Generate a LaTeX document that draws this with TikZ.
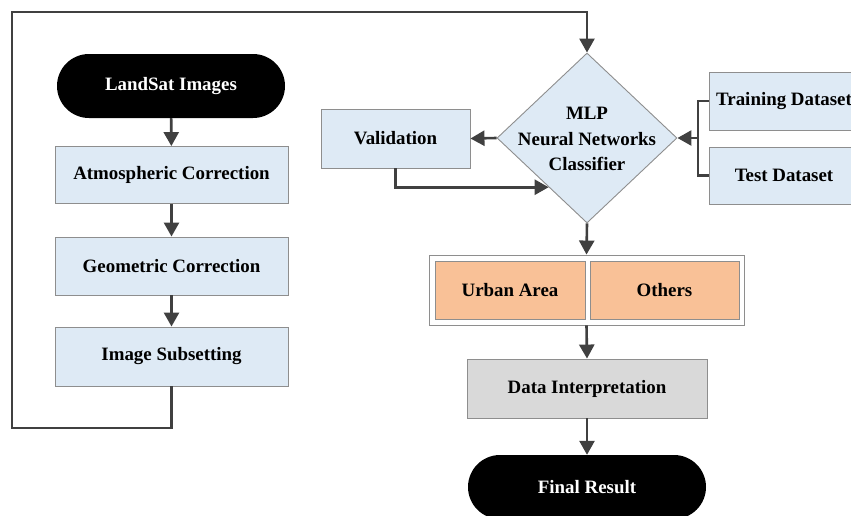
\documentclass[tikz,border=0pt]{standalone}
\usepackage{fontspec}
\setmainfont{Liberation Serif}
\usetikzlibrary{arrows.meta,shapes.misc,shapes.geometric,calc}
\definecolor{boxblue}{HTML}{DEEAF5}
\definecolor{boxedge}{HTML}{8E8E8E}
\definecolor{boxorange}{HTML}{F9C197}
\definecolor{boxgray}{HTML}{D9D9D9}
\definecolor{linkgray}{HTML}{404040}
\tikzset{
  x=1pt, y=-1pt,
  every node/.style={font=\fontsize{18.9}{25.5}\selectfont\bfseries, inner sep=0pt},
  procbox/.style={rectangle, draw=boxedge, line width=0.9pt, fill=boxblue},
  terminal/.style={rounded rectangle, fill=black, text=white, minimum width=228pt, minimum height=64pt},
  link/.style={draw=linkgray, line width=2.6pt},
  flow/.style={link, -{Triangle[width=15pt,length=14pt]}},
}
\begin{document}
\begin{tikzpicture}
\useasboundingbox (0,0) rectangle (851,515);
\clip (0,0) rectangle (851,515);

% left column: preprocessing
\node[terminal] (landsat) at (171,86) {LandSat Images};
\node[procbox, minimum width=233pt, minimum height=57pt] (atmo) at (171.5,175) {Atmospheric Correction};
\node[procbox, minimum width=233pt, minimum height=58pt] (geo) at (171.5,266) {Geometric Correction};
\node[procbox, minimum width=233pt, minimum height=59pt] (subset) at (171.5,356.5) {Image Subsetting};

% classifier
\node[diamond, draw=boxedge, line width=0.9pt, fill=boxblue, minimum width=180pt, minimum height=170pt] (clf) at (587,138) {};
\node[align=center] (clftext) at (587,139) {MLP\\Neural Networks\\Classifier};

\node[procbox, minimum width=149pt, minimum height=59pt] (val) at (395.5,138.5) {Validation};
\node[procbox, minimum width=150pt, minimum height=58pt] (train) at (784,101) {Training Dataset};
\node[procbox, minimum width=150pt, minimum height=57pt] (test) at (784,175.5) {Test Dataset};

% classes
\node[rectangle, draw=boxedge, line width=0.9pt, fill=white, minimum width=315pt, minimum height=70pt] (classes) at (586.5,290) {};
\node[rectangle, draw=boxedge, line width=0.6pt, fill=boxorange, minimum width=150pt, minimum height=58pt] (urban) at (510,290) {Urban Area};
\node[rectangle, draw=boxedge, line width=0.6pt, fill=boxorange, minimum width=149pt, minimum height=58pt] (others) at (664.5,290) {Others};

\node[rectangle, draw=boxedge, line width=0.9pt, fill=boxgray, minimum width=240pt, minimum height=59pt] (interp) at (587,388.5) {Data Interpretation};
\node[terminal, minimum width=238pt] (final) at (587,487) {Final Result};

% connectors
\draw[flow] (landsat) -- (atmo);
\draw[flow] (atmo) -- (geo);
\draw[flow] (geo) -- (subset);

\coordinate (loopbl) at (12,428);
\coordinate (looptl) at (12,12);
\draw[flow] (subset.south) |- (loopbl) -- (looptl) -| (clf.north);

\draw[flow] (clf.west) -- (val.east);
\coordinate (valin) at ($(clf.west)!0.576!(clf.south)$);
\draw[flow] (val.south) |- (valin);

\coordinate (bracket) at (698,138);
\draw[link] (train.west) -| (bracket) |- (test.west);
\draw[flow] (bracket) -- (clf.east);

\draw[flow] (clf.south) -- (classes.north);
\draw[flow] (classes.south) -- (interp.north);
\draw[flow] (interp.south) -- (final.north);
\end{tikzpicture}
\end{document}
